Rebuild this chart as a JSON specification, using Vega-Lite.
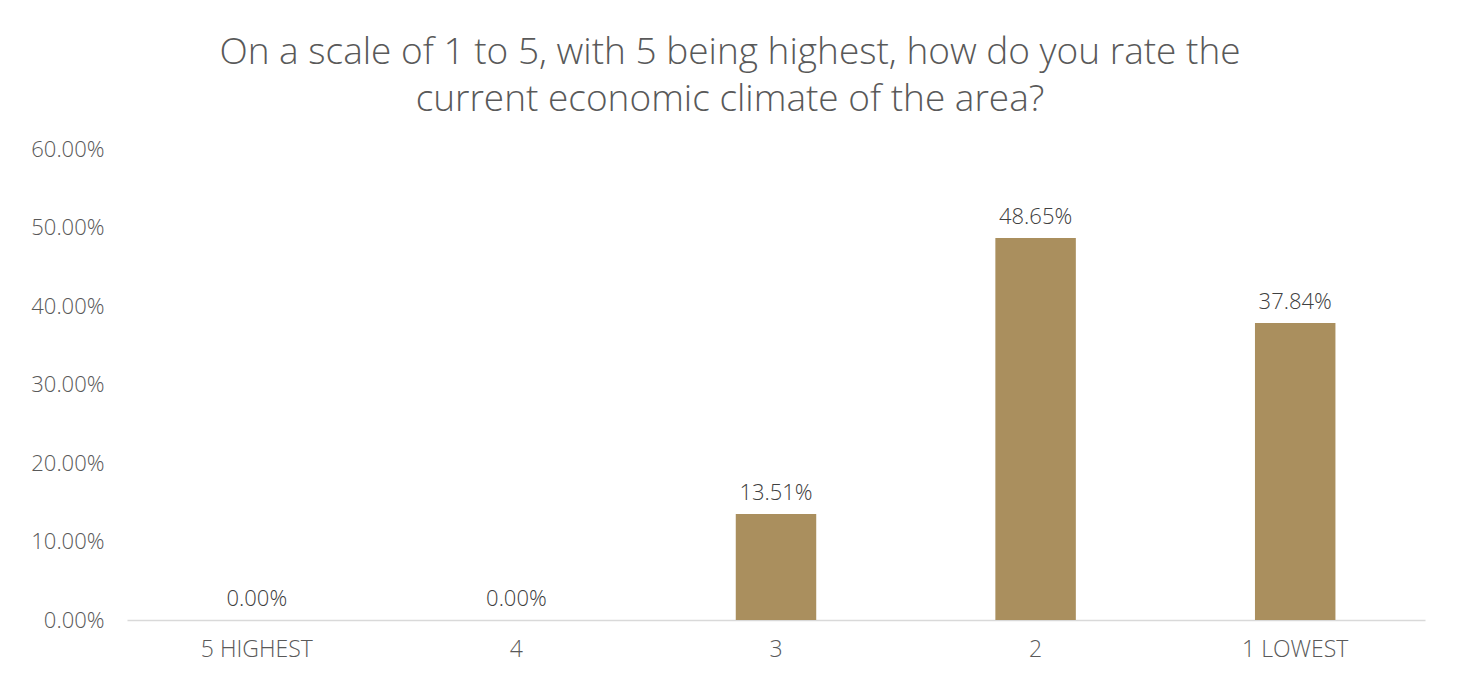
{
  "$schema": "https://vega.github.io/schema/vega-lite/v6.json",
  "autosize": "none",
  "width": 1298,
  "height": 471,
  "padding": {"left": 127, "top": 149, "right": 36, "bottom": 57},
  "background": "white",
  "title": {
    "text": ["On a scale of 1 to 5, with 5 being highest, how do you rate the", "current economic climate of the area?"],
    "font": "Open Sans",
    "fontSize": 37,
    "fontWeight": 300,
    "color": "#595959",
    "anchor": "middle",
    "frame": "group",
    "dx": -46,
    "offset": 19,
    "lineHeight": 47
  },
  "data": {
    "values": [
      {"rating": "5 HIGHEST", "share": 0},
      {"rating": "4", "share": 0},
      {"rating": "3", "share": 0.1351},
      {"rating": "2", "share": 0.4865},
      {"rating": "1 LOWEST", "share": 0.3784}
    ]
  },
  "encoding": {
    "x": {
      "field": "rating",
      "type": "nominal",
      "sort": null,
      "scale": {"paddingInner": 0.69, "paddingOuter": 0.345},
      "axis": {
        "title": null,
        "labelAngle": 0,
        "ticks": false,
        "domainColor": "#d9d9d9",
        "domainWidth": 1.5,
        "labelFont": "Open Sans",
        "labelFontWeight": 300,
        "labelFontSize": 23,
        "labelColor": "#595959",
        "labelPadding": 18
      }
    },
    "y": {
      "field": "share",
      "type": "quantitative",
      "scale": {"domain": [0, 0.6], "nice": false},
      "axis": {
        "title": null,
        "values": [0, 0.1, 0.2, 0.3, 0.4, 0.5, 0.6],
        "format": ".2%",
        "grid": false,
        "domain": false,
        "ticks": false,
        "labelFont": "Open Sans",
        "labelFontWeight": 300,
        "labelFontSize": 22,
        "labelColor": "#595959",
        "labelPadding": 23
      }
    }
  },
  "layer": [
    {"mark": {"type": "bar", "color": "#AA8F5E"}},
    {
      "mark": {"type": "text", "baseline": "bottom", "dy": -9, "font": "Open Sans", "fontWeight": 300, "fontSize": 22, "color": "#404040"},
      "encoding": {"text": {"field": "share", "type": "quantitative", "format": ".2%"}}
    }
  ],
  "config": {"view": {"stroke": null}}
}
